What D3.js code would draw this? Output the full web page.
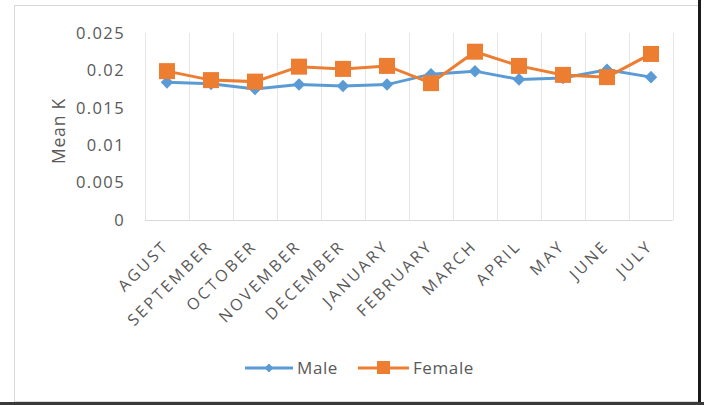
<!DOCTYPE html>
<html>
<head>
<meta charset="utf-8">
<script src="https://cdn.jsdelivr.net/npm/d3@7"></script>
<style>
  html, body { margin: 0; padding: 0; background: #fff; }
  svg { display: block; }
  text { font-family: "Open Sans", "Liberation Sans", sans-serif; fill: #595959; }
</style>
</head>
<body>
<svg id="chart" width="704" height="405"></svg>
<script>
// Monthly mean K by sex
const months = ["AGUST", "SEPTEMBER", "OCTOBER", "NOVEMBER", "DECEMBER", "JANUARY",
                "FEBRUARY", "MARCH", "APRIL", "MAY", "JUNE", "JULY"];
const maleValues   = [0.0184, 0.0182, 0.0175, 0.0181, 0.0179, 0.0181, 0.0195, 0.0199, 0.0188, 0.0190, 0.0201, 0.0191];
const femaleValues = [0.0199, 0.0187, 0.0185, 0.0205, 0.0202, 0.0206, 0.0183, 0.0225, 0.0206, 0.0194, 0.0191, 0.0222];
const yTicks = [0, 0.005, 0.01, 0.015, 0.02, 0.025];
const yTickLabels = ["0", "0.005", "0.01", "0.015", "0.02", "0.025"];

const svg = d3.select("#chart");

// outer frame
svg.append("rect").attr("x", 14.5).attr("y", 5.5).attr("width", 684).attr("height", 396)
  .attr("fill", "#fff").attr("stroke", "#d9d9d9").attr("stroke-width", 1);
svg.append("rect").attr("x", 698).attr("y", 0).attr("width", 3).attr("height", 405).attr("fill", "#1a1a1a");
svg.append("rect").attr("x", 0).attr("y", 402).attr("width", 704).attr("height", 3).attr("fill", "#3a3a3a");

const plot = { left: 145, right: 673, top: 33, bottom: 220 };

const x = d3.scaleBand().domain(months).range([plot.left, plot.right]).padding(0);
const y = d3.scaleLinear().domain([0, 0.025]).range([plot.bottom, plot.top]);

// vertical gridlines at category boundaries
const bounds = months.map(m => x(m)).concat([plot.right]);
svg.append("g").selectAll("line").data(bounds).join("line")
  .attr("x1", d => d + 0.5).attr("x2", d => d + 0.5)
  .attr("y1", plot.top).attr("y2", plot.bottom)
  .attr("stroke", "#e6e6e6").attr("stroke-width", 1);

// baseline
svg.append("line").attr("x1", plot.left).attr("x2", plot.right)
  .attr("y1", plot.bottom + 0.5).attr("y2", plot.bottom + 0.5)
  .attr("stroke", "#d9d9d9").attr("stroke-width", 1);

// y axis labels
const yAxis = d3.axisLeft(y).tickValues(yTicks)
  .tickFormat((d, i) => yTickLabels[i]).tickSize(0).tickPadding(20);
const gy = svg.append("g").attr("transform", `translate(${plot.left},0)`).call(yAxis);
gy.select(".domain").remove();
gy.selectAll("text").style("font-size", "16.5px").style("letter-spacing", "1.4px")
  .attr("fill", "#595959").style("font-family", "'Open Sans', sans-serif");

// y axis title
svg.append("text").attr("transform", `translate(65,131) rotate(-90)`)
  .attr("text-anchor", "middle").style("font-size", "17.5px").style("letter-spacing", "0.8px")
  .text("Mean K");

// x axis labels, rotated
const xAxis = d3.axisBottom(x).tickSize(0).tickPadding(0);
const gx = svg.append("g").attr("transform", `translate(0,${plot.bottom})`).call(xAxis);
gx.select(".domain").remove();
gx.selectAll("text")
  .attr("text-anchor", "end")
  .attr("dy", 0)
  .attr("transform", "translate(3,27) rotate(-45)")
  .style("font-size", "16px").style("letter-spacing", "2.7px")
  .attr("fill", "#595959");

const cx = m => x(m) + x.bandwidth() / 2;
const line = d3.line().x(d => cx(d.m)).y(d => y(d.v));

const male = months.map((m, i) => ({ m, v: maleValues[i] }));
const female = months.map((m, i) => ({ m, v: femaleValues[i] }));

const blue = "#5b9bd5", orange = "#ed7d31";

svg.append("path").datum(male).attr("d", line).attr("fill", "none")
  .attr("stroke", blue).attr("stroke-width", 3);
svg.append("g").selectAll("path").data(male).join("path")
  .attr("d", d3.symbol(d3.symbolDiamond2, 100))
  .attr("transform", d => `translate(${cx(d.m)},${y(d.v)})`)
  .attr("fill", blue);

svg.append("path").datum(female).attr("d", line).attr("fill", "none")
  .attr("stroke", orange).attr("stroke-width", 3);
svg.append("g").selectAll("rect").data(female).join("rect")
  .attr("x", d => cx(d.m) - 8).attr("y", d => y(d.v) - 8)
  .attr("width", 16).attr("height", 16).attr("fill", orange);

// legend
const lg = svg.append("g");
lg.append("line").attr("x1", 245).attr("x2", 293).attr("y1", 368).attr("y2", 368)
  .attr("stroke", blue).attr("stroke-width", 3);
lg.append("path").attr("d", d3.symbol(d3.symbolDiamond2, 50))
  .attr("transform", "translate(269,368)").attr("fill", blue);
lg.append("text").attr("x", 297).attr("y", 374).style("font-size", "17px").style("letter-spacing", "0.6px").text("Male");

lg.append("line").attr("x1", 358).attr("x2", 409).attr("y1", 368).attr("y2", 368)
  .attr("stroke", orange).attr("stroke-width", 3);
lg.append("rect").attr("x", 377).attr("y", 361).attr("width", 13).attr("height", 13).attr("fill", orange);
lg.append("text").attr("x", 413).attr("y", 374).style("font-size", "17px").style("letter-spacing", "0.6px").text("Female");
</script>
</body>
</html>
